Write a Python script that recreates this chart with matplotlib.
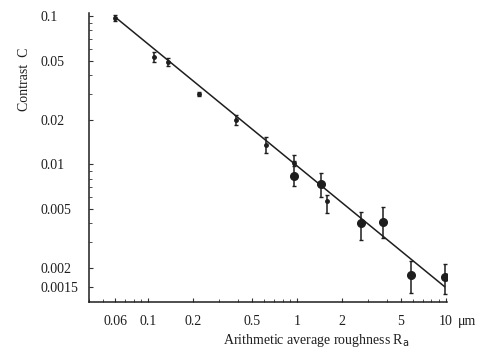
import matplotlib.pyplot as plt
import matplotlib
from matplotlib.ticker import FixedLocator, NullFormatter

matplotlib.rcParams['font.family'] = ['Liberation Serif', 'DejaVu Serif']
matplotlib.rcParams['font.size'] = 10

# measured roughness (um) and contrast
ra = [0.06, 0.11, 0.135, 0.22, 0.39, 0.62, 0.95, 0.95, 1.45, 1.6, 2.7, 3.8, 5.8, 9.8]
contrast = [0.097, 0.053, 0.049, 0.030, 0.0198, 0.0136, 0.0102, 0.0083, 0.0074, 0.0057, 0.0040, 0.0041, 0.0018, 0.00174]
c_low = [0.093, 0.049, 0.046, 0.029, 0.0184, 0.0119, 0.0098, 0.0072, 0.0060, 0.0047, 0.0031, 0.0032, 0.00136, 0.00134]
c_high = [0.101, 0.057, 0.052, 0.031, 0.0214, 0.0152, 0.0106, 0.0115, 0.0088, 0.0062, 0.0048, 0.0052, 0.00224, 0.00214]
filled = [False, False, False, False, False, False, False, True, True, False, True, True, True, True]

# fitted power law, end points
fit_x = [0.06, 9.8]
fit_y = [0.0985, 0.0015]

xticks = [0.06, 0.1, 0.2, 0.5, 1, 2, 5, 10]
xlabels = ['0.06', '0.1', '0.2', '0.5', '1', '2', '5', '10']
yticks = [0.1, 0.05, 0.02, 0.01, 0.005, 0.002, 0.0015]
ylabels = ['0.1', '0.05', '0.02', '0.01', '0.005', '0.002', '0.0015']

ink = '#1e1e1e'

fig = plt.figure(figsize=(4.86, 3.6), dpi=100)
ax = fig.add_axes([0.183, 0.161, 0.737, 0.803])

ax.plot(fit_x, fit_y, color=ink, lw=1.1)

for x, c, lo, hi, f in zip(ra, contrast, c_low, c_high, filled):
    ax.errorbar([x], [c], yerr=[[c - lo], [hi - c]], fmt='o', color=ink,
                ms=5.5 if f else 2.5, elinewidth=1.1, capsize=1.5, capthick=1.0)

ax.set_xscale('log')
ax.set_yscale('log')
ax.set_xlim(0.04, 10.2)
ax.set_ylim(0.00118, 0.105)

ax.xaxis.set_major_locator(FixedLocator(xticks))
ax.set_xticklabels(xlabels)
ax.xaxis.set_minor_formatter(NullFormatter())
ax.yaxis.set_major_locator(FixedLocator(yticks))
ax.set_yticklabels(ylabels)
ax.yaxis.set_minor_formatter(NullFormatter())

ax.tick_params(which='major', direction='in', length=3, width=0.8, color='#333333', labelcolor=ink)
ax.tick_params(which='minor', direction='in', length=2, width=0.6, color='#333333')
ax.tick_params(axis='x', pad=9)
ax.tick_params(axis='y', pad=35)
for lab in ax.get_yticklabels():
    lab.set_horizontalalignment('left')

for s in ['top', 'right']:
    ax.spines[s].set_visible(False)
ax.spines['left'].set_linewidth(1.1)
ax.spines['bottom'].set_linewidth(1.1)
ax.spines['left'].set_color(ink)
ax.spines['bottom'].set_color(ink)

ax.annotate('μm', xy=(10, 0), xycoords=('data', 'axes fraction'), xytext=(9, -9),
            textcoords='offset points', ha='left', va='top', color=ink)

fig.text(0.65, 0.055, 'Arithmetic average roughness R$_\\mathrm{a}$', ha='center', va='center', color=ink)
fig.text(0.05, 0.78, 'Contrast  C', rotation=90, ha='center', va='center', color=ink)

plt.savefig('out.png', dpi=100)
